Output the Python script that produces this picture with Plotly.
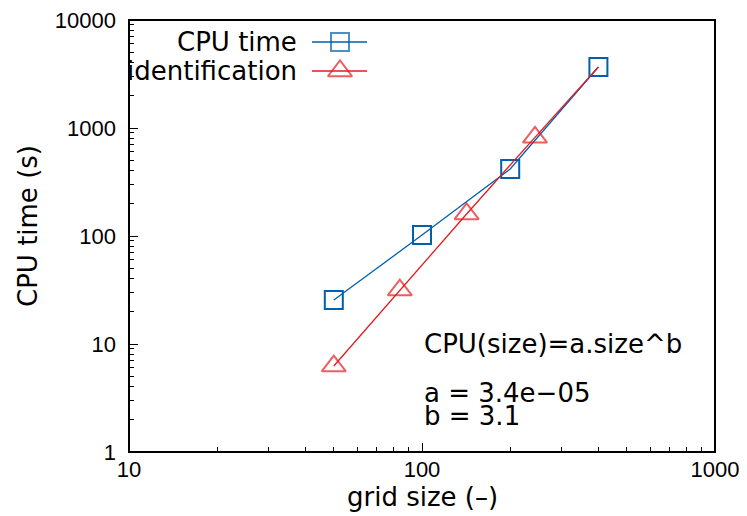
import plotly.graph_objects as go

# ---- data ----
cpu_size = [50, 100, 200, 400]
cpu_time = [25.5, 102, 417, 3670]

ident_size = [50, 84, 142, 243, 400]
ident_time = [6.25, 31.6, 160, 820, 3670]
ident_marker_shown = [True, True, True, True, False]

x_ticks = [10, 100, 1000]
y_ticks = [1, 10, 100, 1000, 10000]
x_minor = [m * d for d in (10, 100) for m in range(2, 10)]
y_minor = [m * d for d in (1, 10, 100, 1000) for m in range(2, 10)]

fit_lines = ["CPU(size)=a.size^b", "a = 3.4e\u221205", "b = 3.1"]
legend_names = ["CPU time", "identification"]
x_title = "grid size (\u2013)"
y_title = "CPU time (s)"

BLUE = "#0060ad"
RED = "#e41a1c"
TXT_FONT = "DejaVu Sans"
TICK_FONT = "Liberation Sans"

# page is offset by the default 8px body margin
OFF = 8
W, H = 747 - OFF, 516 - OFF
PL, PR, PT, PB = 129, 715, 20, 452          # plot box in page pixels
L, T = PL - OFF, PT - OFF
R, B = W - (PR - OFF), H - (PB - OFF)
pw, ph = PR - PL, PB - PT

def px_x(px):
    return (px - PL) / pw

def px_y(py):
    return (PB - py) / ph

fig = go.Figure()

fig.add_trace(go.Scatter(
    x=cpu_size, y=cpu_time, mode="lines+markers", name=legend_names[0],
    line=dict(color=BLUE, width=1.3),
    marker=dict(symbol="square-open", size=18, color=BLUE, line=dict(width=2, color=BLUE)),
    showlegend=False, cliponaxis=False))

fig.add_trace(go.Scatter(
    x=ident_size, y=ident_time, mode="lines+markers", name=legend_names[1],
    line=dict(color=RED, width=1.3),
    marker=dict(symbol="triangle-up-open", size=[21 if s else 0 for s in ident_marker_shown],
                color=RED, line=dict(width=2, color=RED)),
    showlegend=False, cliponaxis=False))

# ---- custom gnuplot-style key (text left of sample) ----
key_rows = [(legend_names[0], BLUE, "square-open", 18, 42),
            (legend_names[1], RED, "triangle-up-open", 21, 71)]
for name, col, sym, sz, py in key_rows:
    fig.add_trace(go.Scatter(
        x=[px_x(312), px_x(340), px_x(367)], y=[px_y(py)] * 3,
        xaxis="x2", yaxis="y2", mode="lines+markers",
        line=dict(color=col, width=1.3),
        marker=dict(symbol=sym, size=[0, sz, 0], color=col, line=dict(width=2, color=col)),
        showlegend=False, hoverinfo="skip", cliponaxis=False))
    fig.add_annotation(x=px_x(299), y=px_y(py), xref="paper", yref="paper",
                       text=name, showarrow=False, xanchor="right", yanchor="middle",
                       font=dict(family=TXT_FONT, size=26, color="black"))

# ---- fit label ----
fit_y = [344, 393, 416]
for t, py in zip(fit_lines, fit_y):
    fig.add_annotation(x=px_x(422), y=px_y(py), xref="paper", yref="paper",
                       text=t, showarrow=False, xanchor="left", yanchor="middle",
                       font=dict(family=TXT_FONT, size=26, color="black"))

# ---- axis titles ----
fig.add_annotation(x=px_x(422), y=px_y(497), xref="paper", yref="paper",
                   text=x_title, showarrow=False, xanchor="center", yanchor="middle",
                   font=dict(family=TXT_FONT, size=26, color="black"))
fig.add_annotation(x=px_x(28), y=px_y(226), xref="paper", yref="paper",
                   text=y_title, showarrow=False, xanchor="center", yanchor="middle",
                   textangle=-90,
                   font=dict(family=TXT_FONT, size=26, color="black"))

# plot frame
fig.add_shape(type="rect", xref="paper", yref="paper", x0=0, x1=1, y0=0, y1=1,
              line=dict(color="black", width=2), layer="above")

axis_common = dict(
    type="log", showgrid=False, zeroline=False, showline=False,
    ticks="inside", ticklen=9, tickwidth=1, tickcolor="black",
    tickfont=dict(family=TICK_FONT, size=22, color="black"), automargin=False,
    ticklabeloverflow="allow",
)

fig.update_layout(
    template="none",
    width=W, height=H,
    margin=dict(l=L, r=R, t=T, b=B, pad=0),
    plot_bgcolor="white", paper_bgcolor="white",
    xaxis=dict(**axis_common, range=[1, 3], tickvals=x_ticks, ticktext=[str(v) for v in x_ticks],
               minor=dict(ticks="inside", ticklen=5, tickvals=x_minor, tickcolor="black"),
               ticklabelstandoff=2),
    yaxis=dict(**axis_common, range=[0, 4], tickvals=y_ticks, ticktext=[str(v) for v in y_ticks],
               minor=dict(ticks="inside", ticklen=5, tickvals=y_minor, tickcolor="black"),
               ticklabelstandoff=12),
    xaxis2=dict(overlaying="x", range=[0, 1], visible=False, anchor="y2"),
    yaxis2=dict(overlaying="y", range=[0, 1], visible=False, anchor="x2"),
)

fig.write_html("out.html")
